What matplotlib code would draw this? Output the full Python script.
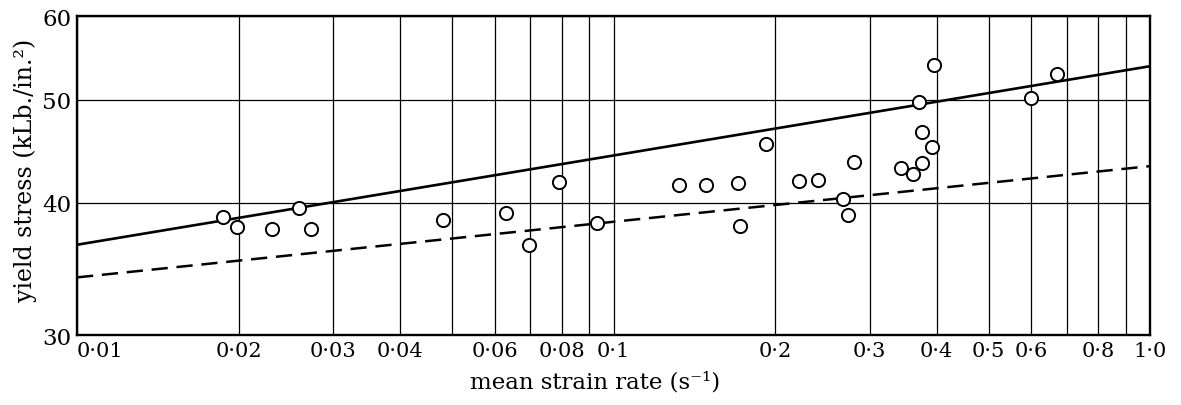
import matplotlib
matplotlib.use("Agg")
import matplotlib.pyplot as plt
import numpy as np
from matplotlib.ticker import FixedLocator, FixedFormatter

plt.rcParams['font.family'] = ['DejaVu Serif']

# measured points: mean strain rate (1/s) and yield stress (kLb/in^2)
rate = [0.0187, 0.0199, 0.0231, 0.0259, 0.0273,
        0.0482, 0.0630, 0.0695, 0.0793, 0.0931,
        0.1326, 0.1489, 0.1709, 0.1722, 0.1927,
        0.2217, 0.2402, 0.2681, 0.2740, 0.2808,
        0.3435, 0.3622, 0.3764, 0.3764, 0.3919,
        0.3707, 0.3953, 0.6001, 0.6718]
stress = [38.8, 37.9, 37.8, 39.5, 37.8,
          38.5, 39.1, 36.5, 41.8, 38.3,
          41.6, 41.6, 41.7, 38.0, 45.4,
          41.9, 42.0, 40.3, 38.9, 43.7,
          43.1, 42.6, 43.6, 46.6, 45.1,
          49.8, 53.9, 50.2, 52.9]

# fitted lines (end points at 0.01 and 1.0)
line_rate = [0.01, 1.0]
solid_stress = [36.5, 53.8]
dashed_stress = [34.0, 43.3]

xtick_vals = [0.01, 0.02, 0.03, 0.04, 0.06, 0.08, 0.1, 0.2, 0.3, 0.4, 0.5, 0.6, 0.8, 1.0]
xtick_text = ['0·01', '0·02', '0·03', '0·04', '0·06', '0·08', '0·1',
              '0·2', '0·3', '0·4', '0·5', '0·6', '0·8', '1·0']
xgrid_extra = [0.05, 0.07, 0.09, 0.7, 0.9]
ytick_vals = [30, 40, 50, 60]

fig = plt.figure(figsize=(11.81, 4.06), dpi=100)
ax = fig.add_axes([0.0652, 0.1724, 0.9086, 0.7857])

ax.set_xscale('log')
ax.set_yscale('log')
ax.set_xlim(0.01, 1.0)
ax.set_ylim(30, 60)

ax.plot(line_rate, solid_stress, color='black', lw=1.9, solid_capstyle='butt')
ax.plot(line_rate, dashed_stress, color='black', lw=1.8, dashes=[6.5, 3.5])
ax.plot(rate, stress, 'o', ms=9.5, mfc='white', mec='black', mew=1.4, zorder=5)

ax.xaxis.set_major_locator(FixedLocator(xtick_vals))
ax.xaxis.set_major_formatter(FixedFormatter(xtick_text))
ax.xaxis.set_minor_locator(FixedLocator(xgrid_extra))
ax.xaxis.set_minor_formatter(FixedFormatter([]))
ax.yaxis.set_major_locator(FixedLocator(ytick_vals))
ax.yaxis.set_major_formatter(FixedFormatter([str(v) for v in ytick_vals]))
ax.yaxis.set_minor_locator(FixedLocator([]))

ax.grid(True, which='both', axis='x', color='black', lw=0.9)
ax.grid(True, which='major', axis='y', color='black', lw=0.9)
ax.set_axisbelow(True)

ax.tick_params(which='both', length=0)
ax.tick_params(axis='x', labelsize=15, pad=4)
ax.tick_params(axis='y', labelsize=16.5, pad=4)
ax.get_xticklabels()[0].set_horizontalalignment('left')

for s in ax.spines.values():
    s.set_linewidth(1.7)

ax.set_xlabel('mean strain rate (s⁻¹)', fontsize=16.5)
ax.set_ylabel('yield stress (kLb./in.²)', fontsize=17)
ax.xaxis.set_label_coords(0.483, -0.112)
ax.yaxis.set_label_coords(-0.037, 0.519)

fig.savefig('out.png', dpi=100)
